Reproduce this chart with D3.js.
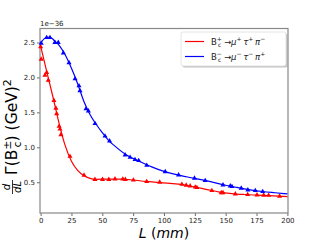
<!DOCTYPE html>
<html>
<head>
<meta charset="utf-8">
<script src="https://cdn.jsdelivr.net/npm/d3@7"></script>
<style>
  body { margin: 0; background: #fff; }
  svg { display: block; font-family: "DejaVu Sans", sans-serif; }
</style>
</head>
<body>
<div id="chart"></div>
<script>
// smooth fitted curves (L in mm, value in 1e-36 GeV^2)
var redCurveL = [0, 5, 10, 15, 20, 25, 30, 35, 40, 45, 55, 65, 75, 85, 95, 105, 115, 125, 135, 145, 155, 165, 175, 185, 200];
var redCurveV = [2.45, 2.08, 1.72, 1.34, 1.02, 0.80, 0.67, 0.595, 0.555, 0.542, 0.545, 0.545, 0.532, 0.512, 0.497, 0.483, 0.465, 0.432, 0.395, 0.36, 0.338, 0.325, 0.316, 0.308, 0.294];
var blueCurveL = [0, 3, 6, 9, 12, 15, 20, 25, 30, 35, 40, 45, 50, 55, 60, 70, 80, 90, 100, 110, 120, 130, 140, 150, 160, 170, 180, 190, 200];
var blueCurveV = [2.49, 2.555, 2.575, 2.56, 2.51, 2.46, 2.32, 2.13, 1.91, 1.66, 1.47, 1.33, 1.21, 1.10, 1.02, 0.885, 0.80, 0.72, 0.655, 0.61, 0.572, 0.537, 0.498, 0.457, 0.422, 0.392, 0.368, 0.35, 0.333];

// sample points (markers)
var redPointsL = [0, 0.5, 3.5, 4.9, 6.2, 10.8, 12.4, 13, 15, 15.7, 16.5, 23.8, 35.2, 44, 50.2, 55.3, 60.3, 66.6, 68.7, 75.2, 86, 96.5, 114.5, 118, 121.2, 125.3, 126.7, 138.8, 146.4, 147.8, 157.8, 167.8, 175.4, 180.8, 184.8, 193.7];
var redPointsV = [2.44, 2.26, 2.03, 2.07, 1.96, 1.67, 1.56, 1.48, 1.30, 1.26, 1.18, 0.87, 0.60, 0.54, 0.54, 0.54, 0.547, 0.545, 0.54, 0.53, 0.51, 0.50, 0.47, 0.457, 0.447, 0.43, 0.423, 0.38, 0.35, 0.35, 0.333, 0.323, 0.318, 0.314, 0.313, 0.30];
var bluePointsL = [0.5, 4.9, 7.6, 11.6, 14.3, 18.4, 23, 27.9, 31.1, 31.9, 36.8, 38.7, 44.1, 52.2, 55.9, 68.5, 72.5, 76.5, 79.5, 86, 101, 111.8, 124.7, 133.4, 147.8, 153.7, 155.1, 162.6, 168, 174, 180];
var bluePointsV = [2.49, 2.57, 2.57, 2.50, 2.50, 2.35, 2.21, 1.98, 1.88, 1.81, 1.55, 1.52, 1.34, 1.16, 1.09, 0.89, 0.857, 0.825, 0.81, 0.742, 0.65, 0.604, 0.557, 0.523, 0.461, 0.447, 0.437, 0.414, 0.39, 0.38, 0.366];

var xTicks = [0, 25, 50, 75, 100, 125, 150, 175, 200];
var yTicks = [0.5, 1.0, 1.5, 2.0, 2.5];

var width = 320, height = 240;
var margin = {left: 40, right: 32, top: 28.5, bottom: 27};

var svg = d3.select("#chart").append("svg")
    .attr("width", width)
    .attr("height", height);

var x = d3.scaleLinear().domain([-0.5, 200.5]).range([margin.left, width - margin.right]);
var y = d3.scaleLinear().domain([0.06, 2.7]).range([height - margin.bottom, margin.top]);

// axes
var xAxis = svg.append("g")
    .attr("transform", "translate(0," + (height - margin.bottom) + ")")
    .call(d3.axisBottom(x).tickValues(xTicks).tickSize(3).tickPadding(2).tickFormat(d3.format("d")));
var yAxis = svg.append("g")
    .attr("transform", "translate(" + margin.left + ",0)")
    .call(d3.axisLeft(y).tickValues(yTicks).tickSize(3).tickPadding(2).tickFormat(d3.format(".1f")));

[xAxis, yAxis].forEach(function(g) {
    g.select(".domain").remove();
    g.selectAll(".tick line").attr("stroke", "#444").attr("stroke-width", 0.8);
    g.selectAll(".tick text").attr("font-size", "7px").attr("fill", "#222")
        .attr("font-family", "DejaVu Sans");
});

// spines
svg.append("rect")
    .attr("x", margin.left)
    .attr("y", margin.top)
    .attr("width", width - margin.left - margin.right)
    .attr("height", height - margin.top - margin.bottom)
    .attr("fill", "none")
    .attr("stroke", "#888")
    .attr("stroke-width", 1.2);

// offset text
svg.append("text")
    .attr("x", margin.left)
    .attr("y", margin.top - 3)
    .attr("font-size", "7px")
    .attr("fill", "#222")
    .text("1e\u221236");

// curves
var line = d3.line()
    .x(function(d) { return x(d[0]); })
    .y(function(d) { return y(d[1]); })
    .curve(d3.curveMonotoneX);

var triangle = d3.symbol().type(d3.symbolTriangle).size(11);

var series = [
    {color: "#ff0000", curveL: redCurveL, curveV: redCurveV, ptsL: redPointsL, ptsV: redPointsV},
    {color: "#0000ff", curveL: blueCurveL, curveV: blueCurveV, ptsL: bluePointsL, ptsV: bluePointsV}
];

series.forEach(function(s) {
    svg.append("path")
        .datum(d3.zip(s.curveL, s.curveV))
        .attr("d", line)
        .attr("fill", "none")
        .attr("stroke", s.color)
        .attr("stroke-width", 1.2);

    svg.append("g").selectAll("path")
        .data(d3.zip(s.ptsL, s.ptsV))
        .enter().append("path")
        .attr("d", triangle)
        .attr("transform", function(d) { return "translate(" + x(d[0]) + "," + y(d[1]) + ")"; })
        .attr("fill", s.color);
});

// legend
var legend = svg.append("g").attr("transform", "translate(181,32)");
legend.append("rect")
    .attr("x", 1.5).attr("y", 1.5).attr("width", 105).attr("height", 34).attr("rx", 2)
    .attr("fill", "#999").attr("opacity", 0.6);
legend.append("rect")
    .attr("width", 105).attr("height", 34).attr("rx", 2)
    .attr("fill", "#fff").attr("stroke", "#ddd").attr("stroke-width", 0.8);

var legendItems = [
    {color: "#ff0000", charge: "+", mu: "+", tau: "+", pi: "\u2212"},
    {color: "#0000ff", charge: "\u2212", mu: "\u2212", tau: "\u2212", pi: "+"}
];

legendItems.forEach(function(item, i) {
    var ly = 9.5 + i * 15;
    legend.append("line")
        .attr("x1", 4).attr("x2", 23).attr("y1", ly).attr("y2", ly)
        .attr("stroke", item.color).attr("stroke-width", 1.2);
    var t = legend.append("text")
        .attr("x", 30).attr("y", ly + 3)
        .attr("font-size", "8.5px").attr("fill", "#222");
    t.append("tspan").text("B");
    t.append("tspan").attr("font-size", "6px").attr("dy", -3.5).text(item.charge);
    t.append("tspan").attr("font-size", "6px").attr("dx", -4).attr("dy", 6).text("c");
    t.append("tspan").attr("dy", -2.5).text(" \u2192");
    t.append("tspan").attr("font-style", "italic").text("\u03bc");
    t.append("tspan").attr("font-size", "6px").attr("dy", -3.5).text(item.mu);
    t.append("tspan").attr("font-style", "italic").attr("dy", 3.5).text("\u2009\u03c4");
    t.append("tspan").attr("font-size", "6px").attr("dy", -3.5).text(item.tau);
    t.append("tspan").attr("font-style", "italic").attr("dy", 3.5).text("\u2009\u03c0");
    t.append("tspan").attr("font-size", "6px").attr("dy", -3.5).text(item.pi);
});

// x label
var xl = svg.append("text")
    .attr("x", (margin.left + width - margin.right) / 2)
    .attr("y", 238)
    .attr("text-anchor", "middle")
    .attr("font-size", "14px")
    .attr("fill", "#000");
xl.append("tspan").attr("font-style", "italic").text("L");
xl.append("tspan").text(" (");
xl.append("tspan").attr("font-style", "italic").text("mm");
xl.append("tspan").text(")");

// y label (rotated)
var yl = svg.append("g").attr("transform", "translate(17,198) rotate(-90)");
var frac = yl.append("g");
frac.append("text").attr("x", 11).attr("y", -7).attr("text-anchor", "middle")
    .attr("font-size", "10px").attr("font-style", "italic").text("d");
frac.append("line").attr("x1", 4).attr("x2", 18).attr("y1", -4.5).attr("y2", -4.5)
    .attr("stroke", "#000").attr("stroke-width", 0.8);
frac.append("text").attr("x", 11).attr("y", 4).attr("text-anchor", "middle")
    .attr("font-size", "10px").attr("font-style", "italic").text("dL");

var main = yl.append("text").attr("x", 23).attr("y", 0).attr("font-size", "15.5px").attr("fill", "#000");
main.append("tspan").text("\u0393(B");
main.append("tspan").attr("font-size", "11px").attr("dy", -6.5).text("\u00b1");
main.append("tspan").attr("font-size", "11px").attr("dx", -7).attr("dy", 10.5).text("c");
main.append("tspan").attr("dy", -4).text(") (GeV)");
main.append("tspan").attr("font-size", "11px").attr("dy", -6.5).text("2");
</script>
</body>
</html>
